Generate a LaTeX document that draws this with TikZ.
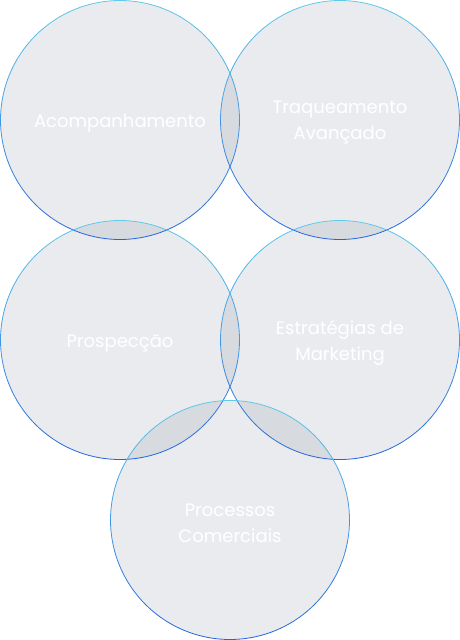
\documentclass[tikz,border=0pt]{standalone}
\usepackage{fontspec}
\setmainfont{Poppins}
\usepackage{xcolor}
\usetikzlibrary{shapes,positioning}

\definecolor{ringtop}{RGB}{96,202,232}
\definecolor{ringbottom}{RGB}{36,100,224}
\definecolor{bubblefill}{RGB}{133,145,161}

\begin{document}
\begin{tikzpicture}[x=1pt, y=-1pt,
    % Styles for the overlapping circles
    bubble/.style={circle, fill=bubblefill, fill opacity=0.18, minimum size=239pt, inner sep=0pt,
        label={[bubbletext]center:#1}},
    bubbletext/.style={text=white, align=center, yshift=-3pt, font=\fontsize{18}{26}\selectfont},
    ring/.style={line width=0.8pt, line cap=round}]

    \useasboundingbox (0,0) rectangle (460,640);

    % Node: Acompanhamento
    \node [bubble={Acompanhamento}] (acomp) at (120,120) {};

    % Node: Traqueamento Avancado
    \node [bubble={Traqueamento\\Avançado}] (traq) at (340,120) {};

    % Node: Prospeccao
    \node [bubble={Prospecção}] (prosp) at (120,340) {};

    % Node: Estrategias de Marketing
    \node [bubble={Estratégias de\\Marketing}] (estrat) at (340,340) {};

    % Node: Processos Comerciais
    \node [bubble={Processos\\Comerciais}] (proc) at (230,520) {};

    % Outlines: cyan at the top, blue at the bottom
    \foreach \n in {acomp,traq,prosp,estrat,proc} {
        \foreach \a in {0,10,...,350} {
            \pgfmathsetmacro{\mixval}{50*(1+sin(\a+5))}
            \draw [ring, color=ringbottom!\mixval!ringtop]
                (\n.center) ++(\a:119.5) arc[start angle=\a, end angle=\a+10, radius=119.5];
        }
    }

\end{tikzpicture}
\end{document}
